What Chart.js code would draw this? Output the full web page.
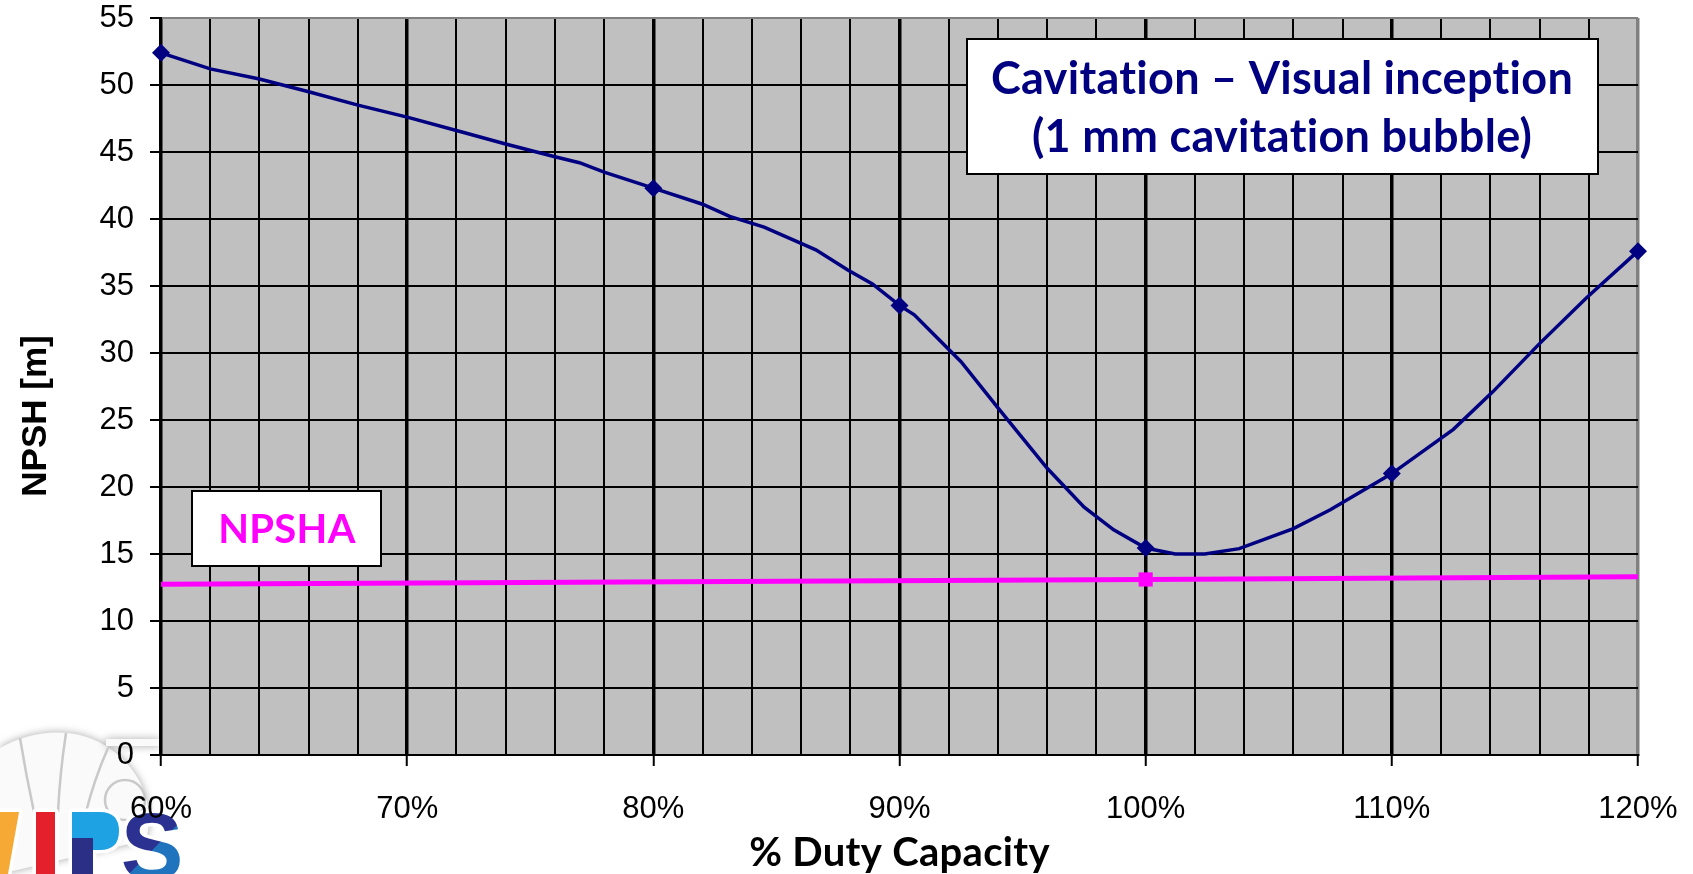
<!DOCTYPE html>
<html>
<head>
<meta charset="utf-8">
<title>NPSH vs Duty Capacity</title>
<script src="https://cdn.jsdelivr.net/npm/chart.js@4.4.1/dist/chart.umd.min.js"></script>
<style>
  html, body { margin: 0; padding: 0; background: #fff; }
  canvas { display: block; }
</style>
</head>
<body>
<canvas id="npshChart" width="1693" height="874"></canvas>
<script>
// NPSHR curve - visual cavitation inception (% of duty flow, metres)
const dutyR = [60, 62, 64, 66, 68, 70, 72, 74, 76, 77, 78, 79, 80, 82, 83.1, 84.5, 86.6, 87.9, 88.9,
               90, 90.6, 92.5, 94, 96, 97.5, 98.7, 100, 101.2, 102.4, 103.8, 106, 107.5, 110,
               112.5, 114.1, 116, 117.9, 120];
const npshR = [52.4, 51.2, 50.45, 49.5, 48.5, 47.6, 46.6, 45.6, 44.65, 44.2, 43.5, 42.9, 42.3, 41.1, 40.2, 39.4, 37.7, 36.2, 35.15,
               33.55, 32.85, 29.35, 25.9, 21.4, 18.5, 16.8, 15.45, 15.0, 15.0, 15.4, 16.9, 18.3, 21.0,
               24.3, 27.1, 30.7, 34.1, 37.6];
const markedR = [60, 80, 90, 100, 110, 120];

// NPSH available
const dutyA = [60, 100, 120];
const npshA = [12.75, 13.1, 13.3];
const markedA = [100];

const xTitle = '% Duty Capacity';
const yTitle = 'NPSH [m]';
const noteLines = ['Cavitation \u2013 Visual inception', '(1 mm cavitation bubble)'];
const availLabel = 'NPSHA';

const NAVY = '#000080';
const MAGENTA = '#ff00ff';

Chart.defaults.font.family = '"Liberation Sans", Arial, sans-serif';
Chart.defaults.color = '#000';

// logo in the lower left corner
function drawLogo(ctx) {
  ctx.save();
  ctx.shadowColor = 'rgba(0,0,0,0.35)';
  ctx.shadowBlur = 8;
  ctx.fillStyle = '#fafafa';
  ctx.beginPath();
  ctx.moveTo(0, 748);
  ctx.bezierCurveTo(35, 728, 80, 726, 112, 750);
  ctx.bezierCurveTo(140, 770, 156, 805, 146, 840);
  ctx.lineTo(0, 874);
  ctx.closePath();
  ctx.fill();
  ctx.fillRect(106, 739, 54, 7);
  ctx.shadowBlur = 0;

  ctx.strokeStyle = '#c9c9c9';
  ctx.lineWidth = 2.5;
  [[20, 738, 26, 775, 34, 812], [66, 733, 60, 772, 58, 812], [108, 748, 94, 780, 86, 812]].forEach(b => {
    ctx.beginPath();
    ctx.moveTo(b[0], b[1]);
    ctx.quadraticCurveTo(b[2], b[3], b[4], b[5]);
    ctx.stroke();
  });
  ctx.beginPath();
  ctx.arc(125, 800, 20, 0, Math.PI * 2);
  ctx.stroke();

  // letters
  ctx.lineJoin = 'round';
  ctx.strokeStyle = '#fff';
  ctx.lineWidth = 7;

  ctx.fillStyle = '#f6a934';
  ctx.beginPath();
  ctx.moveTo(0, 812); ctx.lineTo(19, 812); ctx.lineTo(8, 874); ctx.lineTo(0, 874);
  ctx.closePath();
  ctx.stroke(); ctx.fill();

  ctx.fillStyle = '#e4202c';
  ctx.strokeRect(36, 812, 19, 62);
  ctx.fillRect(36, 812, 19, 62);

  ctx.fillStyle = '#1ea2e3';
  ctx.beginPath();
  ctx.moveTo(72, 812); ctx.lineTo(100, 812);
  ctx.quadraticCurveTo(119, 812, 119, 831);
  ctx.quadraticCurveTo(119, 850, 100, 850);
  ctx.lineTo(93, 850); ctx.lineTo(93, 874); ctx.lineTo(72, 874);
  ctx.closePath();
  ctx.stroke(); ctx.fill();
  ctx.fillStyle = '#2b2f86';
  ctx.fillRect(72, 838, 21, 36);

  const g = ctx.createLinearGradient(121, 812, 184, 874);
  g.addColorStop(0, '#2b3190');
  g.addColorStop(0.55, '#2b3190');
  g.addColorStop(0.56, '#1f74bd');
  g.addColorStop(1, '#1f74bd');
  ctx.font = 'bold 94px "Liberation Sans"';
  ctx.textAlign = 'center';
  ctx.textBaseline = 'alphabetic';
  ctx.strokeText('S', 152, 879);
  ctx.fillStyle = g;
  ctx.fillText('S', 152, 879);
  ctx.restore();
}

function textBox(ctx, x0, y0, x1, y1) {
  ctx.fillStyle = '#fff';
  ctx.fillRect(x0, y0, x1 - x0, y1 - y0);
  ctx.strokeStyle = '#000';
  ctx.lineWidth = 2;
  ctx.strokeRect(x0, y0, x1 - x0, y1 - y0);
}

const decor = {
  id: 'decor',
  beforeDraw(chart) {
    const { ctx, chartArea: a } = chart;
    drawLogo(ctx);
    ctx.save();
    ctx.fillStyle = '#c0c0c0';
    ctx.fillRect(a.left, a.top, a.right - a.left, a.bottom - a.top);
    ctx.restore();
  },
  afterDatasetsDraw(chart) {
    const { ctx, chartArea: a } = chart;
    ctx.save();
    ctx.letterSpacing = '0.3px';

    // note box, top right
    textBox(ctx, 967, 39, 1598, 174);
    ctx.fillStyle = NAVY;
    ctx.font = 'bold 45px Lato';
    ctx.textAlign = 'center';
    ctx.textBaseline = 'middle';
    ctx.fillText(noteLines[0], 1282, 79);
    ctx.fillText(noteLines[1], 1282, 137);

    // NPSHA label box
    textBox(ctx, 192, 491, 381, 566);
    ctx.fillStyle = MAGENTA;
    ctx.font = 'bold 40px Lato';
    ctx.fillText(availLabel, 287, 530);

    // axis titles
    ctx.fillStyle = '#000';
    ctx.font = 'bold 40px Lato';
    ctx.fillText(xTitle, (a.left + a.right) / 2, 853);

    ctx.letterSpacing = '0px';
    ctx.translate(36, 416);
    ctx.rotate(-Math.PI / 2);
    ctx.font = 'bold 35px "Liberation Sans"';
    ctx.fillText(yTitle, 0, 0);
    ctx.restore();
  }
};

function drawChart() {
  const ctx = document.getElementById('npshChart').getContext('2d');
  new Chart(ctx, {
    type: 'line',
    data: {
      datasets: [
        {
          label: 'NPSHR',
          data: dutyR.map((x, i) => ({ x: x, y: npshR[i] })),
          borderColor: NAVY,
          backgroundColor: NAVY,
          borderWidth: 3.5,
          pointStyle: 'rectRot',
          pointRadius: c => (c.raw && markedR.includes(c.raw.x) ? 9 : 0),
          pointBorderWidth: 0,
          tension: 0,
          clip: false
        },
        {
          label: 'NPSHA',
          data: dutyA.map((x, i) => ({ x: x, y: npshA[i] })),
          borderColor: MAGENTA,
          backgroundColor: MAGENTA,
          borderWidth: 5,
          pointStyle: 'rect',
          pointRadius: c => (c.raw && markedA.includes(c.raw.x) ? 10 : 0),
          pointBorderWidth: 0,
          tension: 0,
          clip: false
        }
      ]
    },
    options: {
      responsive: false,
      animation: false,
      events: [],
      layout: { padding: { top: 18, right: 55, left: 0, bottom: 0 } },
      plugins: {
        legend: { display: false },
        tooltip: { enabled: false }
      },
      scales: {
        x: {
          type: 'linear',
          min: 60,
          max: 120,
          afterFit: s => {
            s.height = 119;
            s.paddingLeft = 0;
            s.paddingRight = 0;
          },
          ticks: {
            stepSize: 2,
            autoSkip: false,
            maxRotation: 0,
            minRotation: 0,
            padding: 25,
            font: { size: 31 },
            callback: v => (Math.round(v) % 10 === 0 ? Math.round(v) + '%' : '')
          },
          grid: {
            color: c => (c.tick && Math.round(c.tick.value) === 120 ? '#808080' : '#000'),
            lineWidth: c => (c.tick && Math.round(c.tick.value) % 10 === 0 ? 3.5 : 2),
            tickLength: 11,
            tickWidth: 2,
            tickColor: c => (c.tick && Math.round(c.tick.value) % 10 === 0 ? '#000' : 'rgba(0,0,0,0)')
          },
          border: { color: '#000', width: 2 }
        },
        y: {
          min: 0,
          max: 55,
          afterFit: s => {
            s.width = 161;
            s.paddingTop = 0;
            s.paddingBottom = 0;
          },
          ticks: {
            stepSize: 5,
            padding: 16,
            font: { size: 31 }
          },
          grid: {
            color: c => (c.tick && c.tick.value === 55 ? '#808080' : '#000'),
            lineWidth: 2,
            tickLength: 11,
            tickWidth: 2,
            tickColor: '#000'
          },
          border: { color: '#000', width: 2 }
        }
      }
    },
    plugins: [decor]
  });
}

Promise.all([
  document.fonts.load('bold 45px Lato'),
  document.fonts.load('bold 35px "Liberation Sans"'),
  document.fonts.load('31px "Liberation Sans"')
]).then(drawChart, drawChart);
</script>
</body>
</html>
